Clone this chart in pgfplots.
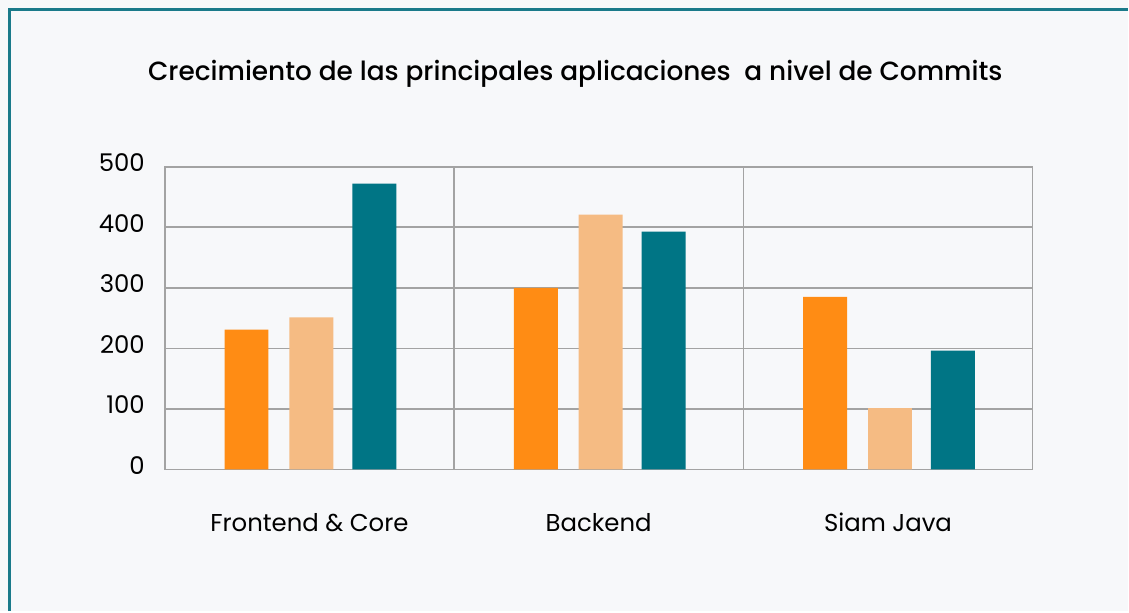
\documentclass[border=0pt]{standalone}
\usepackage{fontspec}
\setmainfont{Poppins}
\newfontfamily\titlefont{Poppins Medium}
\usepackage{pgfplots}
\pgfplotsset{compat=1.18}
\definecolor{bg}{HTML}{F7F8FA}
\definecolor{frame}{HTML}{1A7A8A}
\definecolor{cOrange}{HTML}{FF8C14}
\definecolor{cLight}{HTML}{F5BB83}
\definecolor{cTeal}{HTML}{007585}
\definecolor{gridc}{HTML}{A3A3A3}
\begin{document}
\begin{tikzpicture}
\fill[bg] (0,0) rectangle (564.5pt,306pt);
\draw[frame, line width=1.5pt] (5pt,0) -- (5pt,301pt) -- (564.5pt,301pt);
\node[font=\titlefont\fontsize{13.2}{15}\selectfont] at (288pt,269pt) {Crecimiento de las principales aplicaciones\ \ a nivel de Commits};
\begin{axis}[
  at={(82.5pt,71pt)}, anchor=south west,
  scale only axis, width=434.5pt, height=151.5pt,
  xmin=-0.5, xmax=2.5, ymin=0, ymax=500,
  ytick={0,100,200,300,400,500},
  xtick={0,1,2},
  xticklabels={Frontend \& Core, Backend, Siam Java},
  minor xtick={0.5,1.5},
  xminorgrids, ymajorgrids,
  minor x grid style={gridc, line width=0.8pt},
  major y grid style={gridc, line width=0.8pt},
  axis line style={gridc, line width=0.8pt},
  major tick length=0pt, minor tick length=0pt,
  tick style={draw=none},
  ticklabel style={font=\fontsize{12.2}{14}\selectfont, text=black},
  xticklabel style={yshift=-18.5pt},
  yticklabel style={xshift=-6.5pt, yshift=2pt},
  /pgf/number format/assume math mode=true,
  ybar, bar width=22pt,
  axis background/.style={fill=bg},
]
\addplot[fill=cOrange, draw=none, bar shift=-31.5pt] coordinates {(0,231) (1,300) (2,285)};
\addplot[fill=cLight, draw=none, bar shift=1pt] coordinates {(0,251) (1,421) (2,101)};
\addplot[fill=cTeal, draw=none, bar shift=32.5pt] coordinates {(0,472) (1,393) (2,196)};
\end{axis}
\end{tikzpicture}
\end{document}
